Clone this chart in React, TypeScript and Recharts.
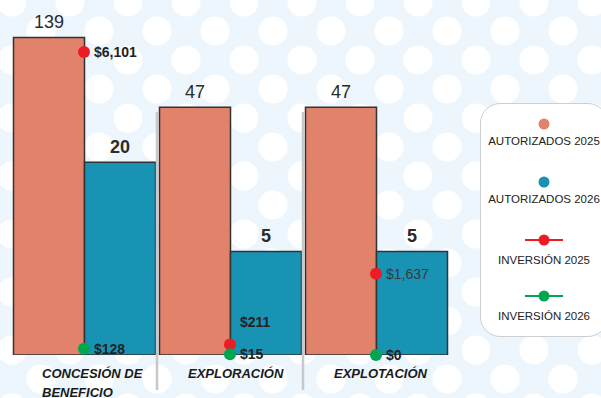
import React from "react";
import {
  Bar,
  ComposedChart,
  LabelList,
  Legend,
  Line,
  XAxis,
  YAxis,
} from "recharts";

const categories = ["CONCESIÓN DE\nBENEFICIO", "EXPLORACIÓN", "EXPLOTACIÓN"];
const autorizados2025 = [139, 47, 47];
const autorizados2026 = [20, 5, 5];
const inversion2025 = [6101, 211, 1637];
const inversion2026 = [128, 15, 0];

const data = categories.map((name, i) => ({
  name,
  aut2025: autorizados2025[i],
  aut2026: autorizados2026[i],
  inv2025: inversion2025[i],
  inv2026: inversion2026[i],
}));

const FONT = "'Liberation Sans', Arial, sans-serif";
const ORANGE = "#e1826a";
const BLUE = "#1893b3";
const RED = "#ec1c24";
const GREEN = "#00a651";

// 2025 investment labels are kept above this line so they don't sit on the 2026 ones
const INV2025_LABEL_FLOOR = 322;

const legendItems = [
  { label: "AUTORIZADOS 2025", color: ORANGE, line: false },
  { label: "AUTORIZADOS 2026", color: BLUE, line: false },
  { label: "INVERSIÓN 2025", color: RED, line: true },
  { label: "INVERSIÓN 2026", color: GREEN, line: true },
];

const money = (v: number) => "$" + v.toLocaleString("en-US");

function CategoryTick(props: any) {
  const { x, y, payload, index } = props;
  const half = payload?.offset ?? 73;
  const lines = String(payload.value).split("\n");
  return (
    <g>
      {index < categories.length - 1 && (
        <line
          x1={x + half}
          x2={x + half}
          y1={y - 243}
          y2={y + 35}
          stroke="#c6c8ca"
          strokeWidth={2.5}
        />
      )}
      <text
        x={x - 42}
        y={y + 23}
        fontFamily={FONT}
        fontSize={13}
        fontWeight="bold"
        fontStyle="italic"
        fill="#1a1a1a"
      >
        {lines.map((l, i) => (
          <tspan key={i} x={x - 42} dy={i === 0 ? 0 : 19}>
            {l}
          </tspan>
        ))}
      </text>
    </g>
  );
}

const barLabel = (bold: boolean) => (props: any) => {
  const { x, y, width, value } = props;
  return (
    <text
      x={x + width / 2}
      y={y - 9}
      textAnchor="middle"
      fontFamily={FONT}
      fontSize={18}
      fontWeight={bold ? "bold" : "normal"}
      fill="#2b2b2b"
    >
      {value}
    </text>
  );
};

const invLabel = (plainIndex: number, floor: number) => (props: any) => {
  const { x, y, value, index } = props;
  const plain = index === plainIndex;
  const ly = Math.min(y, floor);
  return (
    <text
      x={x + 10}
      y={ly + 5}
      fontFamily={FONT}
      fontSize={14}
      fontWeight={plain ? "normal" : "bold"}
      fill={plain ? "#3a3a3a" : "#222"}
    >
      {money(value)}
    </text>
  );
};

function LegendBox() {
  return (
    <div
      style={{
        width: 128,
        height: 234,
        background: "#fff",
        border: "1px solid #cfcfcf",
        borderRadius: 20,
        boxSizing: "border-box",
        fontFamily: FONT,
        fontSize: 11.5,
        color: "#222",
        textAlign: "center",
        paddingTop: 14,
      }}
    >
      {legendItems.map((it, i) => (
        <div key={it.label} style={{ height: i < 2 ? 58 : 56 }}>
          <svg width={40} height={12} style={{ display: "block", margin: "0 auto" }}>
            {it.line && (
              <line x1={1} x2={39} y1={6} y2={6} stroke={it.color} strokeWidth={2} />
            )}
            <circle cx={20} cy={6} r={5.5} fill={it.color} />
          </svg>
          <div style={{ marginTop: it.line ? 8 : 5 }}>{it.label}</div>
        </div>
      ))}
    </div>
  );
}

export default function App() {
  return (
    <div
      style={{
        position: "absolute",
        left: 0,
        top: 0,
        width: 601,
        height: 398,
        overflow: "hidden",
        backgroundColor: "#edf6fc",
        backgroundImage:
          "radial-gradient(circle, #ffffff 14px, transparent 15px), radial-gradient(circle, #ffffff 14px, transparent 15px)",
        backgroundSize: "58px 58px",
        backgroundPosition: "12px 2px, 41px 31px",
      }}
    >
      <ComposedChart
        width={601}
        height={398}
        data={data}
        margin={{ top: 14, right: 152, bottom: 0, left: 11 }}
        barCategoryGap={2.5}
        barGap={0}
      >
        <XAxis
          dataKey="name"
          axisLine={false}
          tickLine={false}
          tickSize={0}
          tickMargin={0}
          height={43}
          interval={0}
          tick={<CategoryTick />}
        />
        <YAxis yAxisId="aut" hide scale="log" domain={[1, 200]} allowDataOverflow />
        <YAxis yAxisId="inv" hide domain={[0, 6866]} />
        <Bar
          yAxisId="aut"
          dataKey="aut2025"
          name="AUTORIZADOS 2025"
          fill={ORANGE}
          stroke="#333"
          strokeWidth={1.5}
          isAnimationActive={false}
        >
          <LabelList dataKey="aut2025" content={barLabel(false)} />
        </Bar>
        <Bar
          yAxisId="aut"
          dataKey="aut2026"
          name="AUTORIZADOS 2026"
          fill={BLUE}
          stroke="#333"
          strokeWidth={1.5}
          isAnimationActive={false}
        >
          <LabelList dataKey="aut2026" content={barLabel(true)} />
        </Bar>
        <Line
          yAxisId="inv"
          dataKey="inv2025"
          name="INVERSIÓN 2025"
          stroke="none"
          dot={{ r: 6, fill: RED, stroke: "none" }}
          activeDot={false}
          isAnimationActive={false}
        >
          <LabelList dataKey="inv2025" content={invLabel(2, INV2025_LABEL_FLOOR)} />
        </Line>
        <Line
          yAxisId="inv"
          dataKey="inv2026"
          name="INVERSIÓN 2026"
          stroke="none"
          dot={{ r: 6, fill: GREEN, stroke: "none" }}
          activeDot={false}
          isAnimationActive={false}
        >
          <LabelList dataKey="inv2026" content={invLabel(-1, Infinity)} />
        </Line>
        <Legend
          layout="vertical"
          align="center"
          verticalAlign="middle"
          content={() => <LegendBox />}
          wrapperStyle={{ left: 480, top: 103, width: 128, height: 234 }}
        />
      </ComposedChart>
    </div>
  );
}
